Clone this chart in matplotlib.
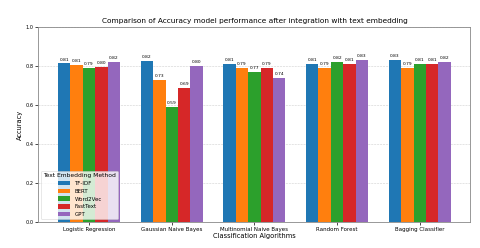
import numpy as np
import matplotlib
matplotlib.use("Agg")
import matplotlib.pyplot as plt

algorithms = ['Logistic Regression', 'Gaussian Naive Bayes', 'Multinomial Naive Bayes',
              'Random Forest', 'Bagging Classifier']
methods = ['TF-IDF', 'BERT', 'Word2Vec', 'FastText', 'GPT']

tfidf = [0.814, 0.825, 0.812, 0.810, 0.830]
bert = [0.806, 0.730, 0.790, 0.790, 0.790]
word2vec = [0.790, 0.590, 0.770, 0.820, 0.810]
fasttext = [0.796, 0.690, 0.790, 0.810, 0.810]
gpt = [0.820, 0.800, 0.740, 0.830, 0.820]

scores = [tfidf, bert, word2vec, fasttext, gpt]
colors = ['#1f77b4', '#ff7f0e', '#2ca02c', '#d62728', '#9467bd']

fig, ax = plt.subplots(figsize=(4.8, 2.48), dpi=100)
fig.subplots_adjust(left=0.08, right=0.98, top=0.89, bottom=0.105)

x = np.arange(len(algorithms))
width = 0.15
for i, (name, vals) in enumerate(zip(methods, scores)):
    pos = x + (i - 2) * width
    bars = ax.bar(pos, vals, width, label=name, color=colors[i])
    for b, v in zip(bars, vals):
        ax.text(b.get_x() + b.get_width() / 2, v + 0.01, '%.2f' % v,
                ha='center', va='bottom', fontsize=3.2)

ax.set_ylim(0, 1.0)
ax.set_yticks([0.0, 0.2, 0.4, 0.6, 0.8, 1.0])
ax.set_xticks(x)
ax.set_xticklabels(algorithms, fontsize=4.0)
ax.tick_params(axis='y', labelsize=3.6, length=2, width=0.5, pad=1.5)
ax.tick_params(axis='x', length=2, width=0.5, pad=1.5)
ax.set_xlabel('Classification Algorithms', fontsize=4.8, labelpad=1)
ax.set_ylabel('Accuracy', fontsize=4.8, labelpad=2)
ax.set_title('Comparison of Accuracy model performance after integration with text embedding',
             fontsize=5.3, pad=3)
ax.yaxis.grid(True, linestyle='--', linewidth=0.4, alpha=0.6)
ax.set_axisbelow(True)
for s in ax.spines.values():
    s.set_linewidth(0.6)
    s.set_color('#888888')

leg = ax.legend(title='Text Embedding Method', loc='lower left', fontsize=4.0,
                title_fontsize=4.3, handlelength=2.2, handleheight=0.9,
                labelspacing=0.45, borderpad=0.4, framealpha=0.8)
leg.get_frame().set_linewidth(0.4)

fig.savefig('out.png', dpi=100)
